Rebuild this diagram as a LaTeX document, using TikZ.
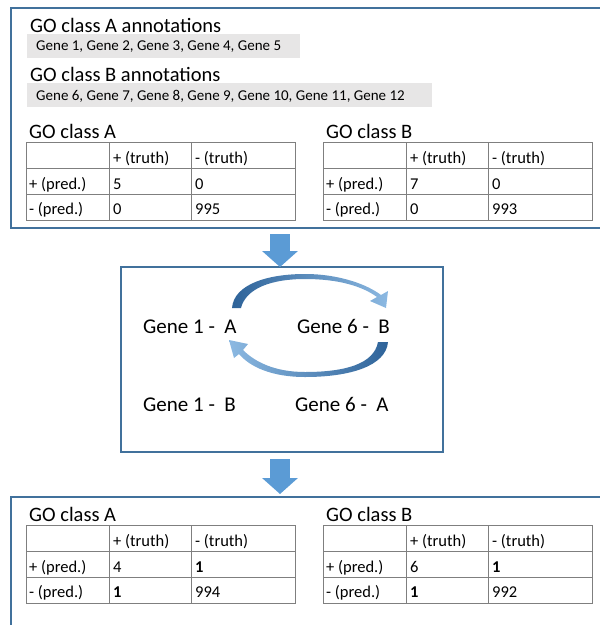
\documentclass[tikz,border=0pt]{standalone}
\usepackage{fontspec}
\setmainfont{Carlito}
\usetikzlibrary{arrows.meta}

\definecolor{panelblue}{HTML}{41719C}
\definecolor{arrowblue}{HTML}{5B9BD5}
\definecolor{swooshdark}{HTML}{2E6399}
\definecolor{swooshlight}{HTML}{8CB9E2}
\definecolor{annogray}{HTML}{E7E6E6}
\definecolor{gridgray}{HTML}{7F7F7F}

\tikzset{
  panel/.style={draw=panelblue, line width=2.5pt, outer sep=0pt, inner sep=0pt},
  bigarrow/.style={draw=arrowblue, line width=20pt, -{Triangle[width=35pt,length=16pt]}},
  heading/.style={anchor=base west, inner sep=0pt, font=\fontsize{20.5}{24}\selectfont},
  genes/.style={anchor=base west, inner sep=0pt, font=\fontsize{15}{18}\selectfont},
  pair/.style={anchor=base west, inner sep=0pt, font=\fontsize{21}{25}\selectfont},
  cell/.style={anchor=base west, inner sep=0pt, font=\fontsize{16.5}{20}\selectfont},
  tableline/.style={draw=gridgray, line width=0.8pt},
}

% #1 name, #2 x, #3 y, #4 title, #5..#8 cells
\newcommand{\gotable}[8]{%
  \node[heading] (#1-title) at (#2+3,#3-4) {#4};
  \draw[tableline] (#2,#3) rectangle (#2+269,#3+78);
  \foreach \dx in {83,165} \draw[tableline] (#2+\dx,#3) -- (#2+\dx,#3+78);
  \foreach \dy in {26,52} \draw[tableline] (#2,#3+\dy) -- (#2+269,#3+\dy);
  \node[cell] (#1-tp) at (#2+87,#3+21) {+ (truth)};
  \node[cell] (#1-tn) at (#2+169,#3+21) {- (truth)};
  \node[cell] (#1-pp) at (#2+3,#3+47) {+ (pred.)};
  \node[cell] (#1-pn) at (#2+3,#3+72) {- (pred.)};
  \node[cell] (#1-a) at (#2+87,#3+47) {#5};
  \node[cell] (#1-b) at (#2+169,#3+47) {#6};
  \node[cell] (#1-c) at (#2+87,#3+72) {#7};
  \node[cell] (#1-d) at (#2+169,#3+72) {#8};
}

\begin{document}
\begin{tikzpicture}[x=1pt, y=-1pt]
\useasboundingbox (0,0) rectangle (600,625);

% boxes
\node[panel, anchor=north west, minimum width=620pt, minimum height=220pt] (inbox) at (11,8) {};
\node[panel, minimum width=322pt, minimum height=185pt] (swapbox) at (282,359.5) {};
\node[panel, anchor=north west, minimum width=620pt, minimum height=150pt] (outbox) at (11,497) {};

% annotations
\fill[annogray] (27,34) rectangle (300,58);
\fill[annogray] (27,83) rectangle (432,107);
\node[heading] (annoA) at (30,32) {GO class A annotations};
\node[genes] (genesA) at (36,50) {Gene 1, Gene 2, Gene 3, Gene 4, Gene 5};
\node[heading] (annoB) at (30,81) {GO class B annotations};
\node[genes] (genesB) at (36,100) {Gene 6, Gene 7, Gene 8, Gene 9, Gene 10, Gene 11, Gene 12};

\gotable{inA}{26}{142}{GO class A}{5}{0}{0}{995}
\gotable{inB}{323}{142}{GO class B}{7}{0}{0}{993}

% swap
\node[pair] (g1A) at (143,333) {Gene 1 -\ \ A};
\node[pair] (g6B) at (297,333) {Gene 6 -\ \ B};
\node[pair] (g1B) at (143,411) {Gene 1 -\ \ B};
\node[pair] (g6A) at (295,411) {Gene 6 -\ \ A};

\shade[left color=swooshdark, right color=swooshlight]
  (232,308) .. controls (234,284) and (268,274) .. (305,274)
  .. controls (340,274) and (368,285) .. (381,295) -- (388,291) -- (386,308) -- (370,301) -- (377,297)
  .. controls (362,286) and (338,279) .. (305,279)
  .. controls (272,279) and (246,288) .. (241,308) -- cycle;
\shade[left color=swooshlight, right color=swooshdark]
  (388,342) .. controls (386,366) and (350,377) .. (305,377)
  .. controls (272,377) and (250,367) .. (239,354) -- (234,358) -- (229,340) -- (248,344) -- (243,350)
  .. controls (255,362) and (275,372) .. (305,372)
  .. controls (345,372) and (374,364) .. (378,342) -- cycle;

% flow
\coordinate (gapA) at (280,234);
\coordinate (gapB) at (280,459);
\draw[bigarrow] (gapA) -- (gapA |- swapbox.north);
\draw[bigarrow, shorten >=3pt] (gapB) -- (gapB |- outbox.north);

\gotable{outA}{26}{525}{GO class A}{4}{\textbf{1}}{\textbf{1}}{994}
\gotable{outB}{323}{525}{GO class B}{6}{\textbf{1}}{\textbf{1}}{992}
\end{tikzpicture}
\end{document}
